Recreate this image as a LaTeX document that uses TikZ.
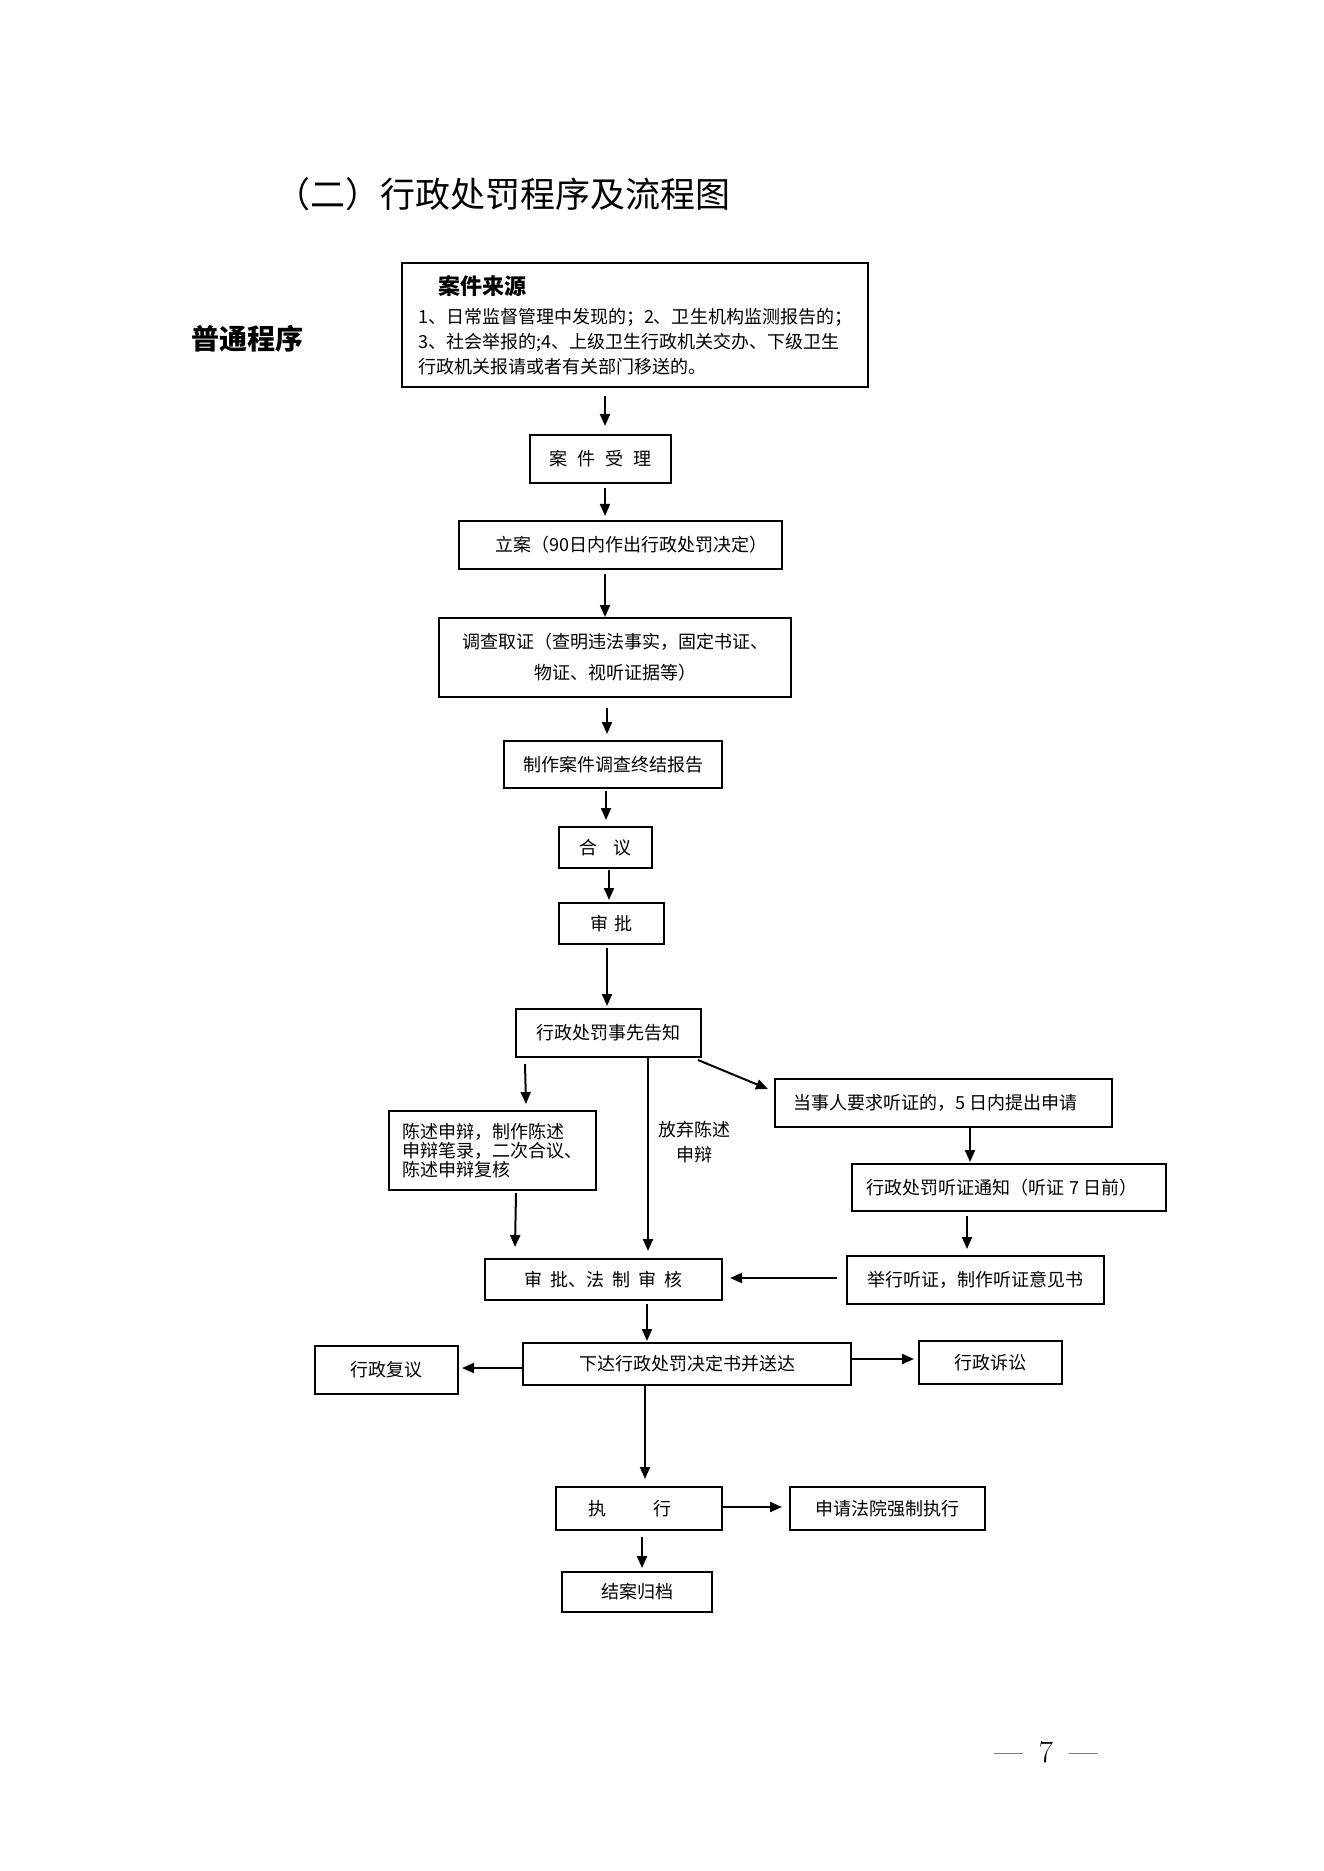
\documentclass[tikz,border=0pt]{standalone}
\usepackage{fontspec}
\newfontfamily\cjk{Noto Sans CJK SC}
\usetikzlibrary{calc,arrows.meta}
\begin{document}
\begin{tikzpicture}[x=0.5pt,y=-0.5pt,
  box/.style={draw, line width=1pt, inner sep=0pt, align=center, font=\cjk\fontsize{9}{11}\selectfont},
  arr/.style={line width=1pt, -{Triangle[length=6pt,width=5pt]}},
  lbl/.style={inner sep=0pt, align=center, font=\cjk\fontsize{9}{12.5}\selectfont}]
\path[use as bounding box, fill=white] (0,0) rectangle (1323,1871);

% headings
\node[inner sep=0pt, font=\cjk\fontsize{17.5}{20}\selectfont] (title) at (503,194) {（二）行政处罚程序及流程图};
\node[inner sep=0pt, font=\cjk\bfseries\fontsize{14}{16}\selectfont] (putong) at (247,339) {普通程序};

% boxes
\node[box, minimum width=233pt, minimum height=62pt, align=left, font=\cjk\fontsize{9}{12.5}\selectfont] (src) at (635,325)
  {\hspace*{10pt}{\bfseries\fontsize{11}{14}\selectfont 案件来源}\\[2pt]
   1、日常监督管理中发现的；2、卫生机构监测报告的；\\
   3、社会举报的;4、上级卫生行政机关交办、下级卫生\\
   行政机关报请或者有关部门移送的。};
\node[box, minimum width=70.5pt, minimum height=24pt] (shouli) at (600.5,459) {案\hspace{5pt}件\hspace{5pt}受\hspace{5pt}理};
\node[box, minimum width=161.5pt, minimum height=24pt] (lian) at (620.5,545) {\hspace*{10.5pt}立案（90日内作出行政处罚决定）};
\node[box, minimum width=176pt, minimum height=39.5pt, font=\cjk\fontsize{9}{15.5}\selectfont] (diaocha) at (615,657.5)
  {调查取证（查明违法事实，固定书证、\\物证、视听证据等）};
\node[box, minimum width=109pt, minimum height=23.5pt] (zhizuo) at (613,764.5) {制作案件调查终结报告};
\node[box, minimum width=46.5pt, minimum height=20.5pt] (heyi) at (605.5,847.5) {合\hspace{8pt}议};
\node[box, minimum width=52.5pt, minimum height=20.5pt] (shenpi) at (611.5,923.5) {审\hspace{3.5pt}批};
\node[box, minimum width=92.5pt, minimum height=24pt] (gaozhi) at (608.5,1033) {行政处罚事先告知};
\node[box, minimum width=103.5pt, minimum height=39.5pt, align=left, font=\cjk\fontsize{9}{9.6}\selectfont] (chenshu) at (492.5,1150.5)
  {陈述申辩，制作陈述\\申辩笔录，二次合议、\\陈述申辩复核};
\node[lbl] (fangqi) at (694,1142.5) {放弃陈述\\申辩};
\node[box, minimum width=168.5pt, minimum height=24pt] (dangshiren) at (943.5,1103) {当事人要求听证的，5 日内提出申请\hspace*{8.5pt}};
\node[box, minimum width=157pt, minimum height=23.5pt] (tongzhi) at (1009,1187.5) {行政处罚听证通知（听证 7 日前）\hspace*{7pt}};
\node[box, minimum width=128.5pt, minimum height=24pt] (juxing) at (975.5,1280) {举行听证，制作听证意见书};
\node[box, minimum width=118.5pt, minimum height=20.5pt] (fazhi) at (603.5,1279.5) {审\hspace{4pt}批、法\hspace{4pt}制\hspace{4pt}审\hspace{4pt}核};
\node[box, minimum width=164pt, minimum height=21pt] (xiada) at (687,1364) {下达行政处罚决定书并送达};
\node[box, minimum width=71.5pt, minimum height=24pt] (fuyi) at (386.5,1370) {行政复议};
\node[box, minimum width=71.5pt, minimum height=21.5pt] (susong) at (990.5,1362.5) {行政诉讼};
\node[box, minimum width=83pt, minimum height=21.5pt] (zhixing) at (639,1508.5) {执\hspace{23.5pt}行\hspace*{9.5pt}};
\node[box, minimum width=97.5pt, minimum height=21.5pt] (shenqing) at (887.5,1508.5) {申请法院强制执行};
\node[box, minimum width=75pt, minimum height=20pt] (jiean) at (637,1592) {结案归档};

% connectors
\draw[arr] ($(src.south)+(-30,8)$) -- ($(shouli.north)+(4.5,-8)$);
\draw[arr] ($(shouli.south)+(4.5,4)$) -- ($(lian.north)+(-15.5,-4)$);
\draw[arr] ($(lian.south)+(-15.5,4)$) -- ($(diaocha.north)+(-10,0)$);
\draw[arr] ($(diaocha.south)+(-8,10)$) -- ($(zhizuo.north)+(-6,-6)$);
\draw[arr] ($(zhizuo.south)+(-7,2)$) -- ($(heyi.north)+(0.5,-6)$);
\draw[arr] ($(heyi.south)+(3.5,1)$) -- ($(shenpi.north)+(-2.5,-2)$);
\draw[arr] ($(shenpi.south)+(-4.5,3)$) -- ($(gaozhi.north)+(-1.5,-2)$);
\draw[arr] ($(gaozhi.south west)+(10,6)$) -- ($(chenshu.north)+(33.5,-6)$);
\draw[arr] ($(gaozhi.south)+(39.5,0)$) -- ($(fazhi.north)+(44.5,-7)$);
\draw[arr] ($(gaozhi.south east)+(-4,2)$) -- ($(dangshiren.north west)+(-6,11)$);
\draw[arr] ($(dangshiren.south)+(26.5,0)$) -- ($(tongzhi.north)+(-39,-1)$);
\draw[arr] ($(tongzhi.south)+(-42,4)$) -- ($(juxing.north)+(-8.5,-6)$);
\draw[arr] ($(juxing.west)+(-9,-2)$) -- ($(fazhi.east)+(7,-1.5)$);
\draw[arr] ($(chenshu.south)+(23.5,2)$) -- ($(fazhi.north west)+(31,-11)$);
\draw[arr] ($(fazhi.south)+(43.5,3)$) -- ($(xiada.north)+(-40,-1)$);
\draw[arr] ($(xiada.west)+(0,4)$) -- ($(fuyi.east)+(3,-2)$);
\draw[arr] ($(xiada.east)+(0,-5)$) -- ($(susong.west)+(-4,-3.5)$);
\draw[arr] ($(xiada.south)+(-42,0)$) -- ($(zhixing.north)+(6,-7)$);
\draw[arr] ($(zhixing.east)+(-2,-1.5)$) -- ($(shenqing.west)+(-7,-1.5)$);
\draw[arr] ($(zhixing.south)+(3,6)$) -- ($(jiean.north)+(5,-3)$);

% page number
\node[inner sep=0pt, font=\fontsize{15.5}{18}\selectfont] (pg) at (1046,1752) {\textemdash\hspace{8pt}7\hspace{8pt}\textemdash};
\end{tikzpicture}
\end{document}
